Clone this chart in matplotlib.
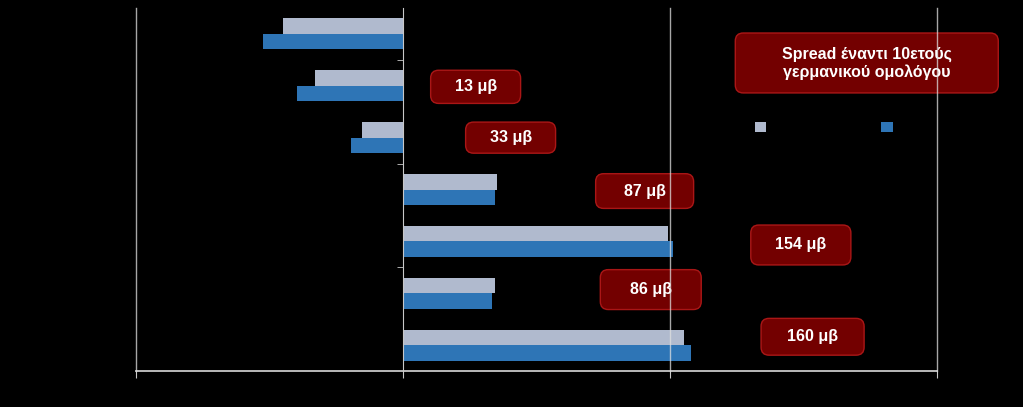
import numpy as np
import matplotlib.pyplot as plt
from matplotlib.patches import FancyBboxPatch

plt.rcParams['font.family'] = ['Liberation Sans', 'DejaVu Sans']

# data
countries = ['Γερμανία', 'Ολλανδία', 'Γαλλία', 'Αυστρία', 'Ιταλία', 'Βέλγιο', 'Ελλάδα']
series_names = ['2008', '2009']
vals_gray = [-0.449, -0.330, -0.152, 0.351, 0.994, 0.345, 1.054]
vals_blue = [-0.524, -0.396, -0.196, 0.346, 1.011, 0.335, 1.077]
spread_labels = ['13 μβ', '33 μβ', '87 μβ', '154 μβ', '86 μβ', '160 μβ']
x_ticks = [-1, 0, 1, 2]

# label boxes: (centre x, centre y, width, height) in data units
box_pos = [(0.272, 1.02, 0.337, 0.64), (0.403, 2.0, 0.337, 0.60),
           (0.905, 3.03, 0.367, 0.67), (1.49, 4.07, 0.375, 0.77),
           (0.928, 4.93, 0.378, 0.77), (1.534, 5.84, 0.386, 0.71)]

gray_c = '#B0BACE'
blue_c = '#2E75B6'
box_fc = '#7A0000'
box_ec = '#B01818'
line_c = '#C8C8C8'

fig = plt.figure(figsize=(10.23, 4.07), dpi=100, facecolor='black')
ax = fig.add_axes([136/1023, 36/407, 801/1023, 363/407], facecolor='black')

y = np.arange(len(countries))
h = 0.3
ax.barh(y - h/2, vals_gray, height=h, color=gray_c, label=series_names[0], zorder=3)
ax.barh(y + h/2, vals_blue, height=h, color=blue_c, label=series_names[1], zorder=3)

ax.set_xlim(-1, 2)
ax.set_ylim(len(countries) - 0.5, -0.5)

# spines
for s in ['top', 'right']:
    ax.spines[s].set_visible(False)
ax.spines['left'].set_position(('data', 0))
ax.spines['left'].set_color(line_c)
ax.spines['left'].set_zorder(6)
ax.spines['bottom'].set_color(line_c)
ax.spines['bottom'].set_linewidth(1.3)

# vertical gridlines drawn above the label boxes
for xv in [-1, 1, 2]:
    ax.axvline(xv, color='#E0E0E0', lw=1.0, alpha=0.75, zorder=10, clip_on=False)

ax.set_xticks(x_ticks)
ax.set_xticklabels([str(v) for v in x_ticks], color='black')
ax.tick_params(axis='x', colors=line_c, length=5, direction='out', labelcolor='black')

ax.set_yticks(y)
ax.set_yticklabels([])
ax.tick_params(axis='y', which='major', length=0)
ax.set_yticks([0.5, 2.5, 4.5], minor=True)
ax.tick_params(axis='y', which='minor', length=4, color=line_c, direction='out')

for i, c in enumerate(countries):
    ax.text(-0.02, i, c, transform=ax.get_yaxis_transform(), ha='right', va='center',
            color='black', fontsize=10)

# rounded red label boxes
asp = (363/7) / 267
def red_box(cx, cy, w, hh, txt, fs=11.5):
    p = FancyBboxPatch((cx - w/2, cy - hh/2), w, hh,
                       boxstyle='round,pad=0,rounding_size=0.03',
                       mutation_aspect=1/asp, fc=box_fc, ec=box_ec, lw=1.0, zorder=5,
                       alpha=0.95, clip_on=False)
    ax.add_patch(p)
    ax.text(cx, cy, txt, ha='center', va='center', color='white', fontsize=fs,
            fontweight='bold', zorder=5.5, clip_on=False)

for (cx, cy, w, hh), t in zip(box_pos, spread_labels):
    red_box(cx, cy, w, hh, t)

red_box(1.737, 0.56, 0.985, 1.156, 'Spread έναντι 10ετούς\nγερμανικού ομολόγου', fs=11.5)

leg = fig.legend(loc='center left', bbox_to_anchor=(742/1023, 1 - 128/407), ncol=2,
                 frameon=False, handlelength=0.8, handleheight=0.8, columnspacing=5.6,
                 handletextpad=0.5, fontsize=10)
for t in leg.get_texts():
    t.set_color('black')

fig.savefig('out.png', dpi=100, facecolor='black')
